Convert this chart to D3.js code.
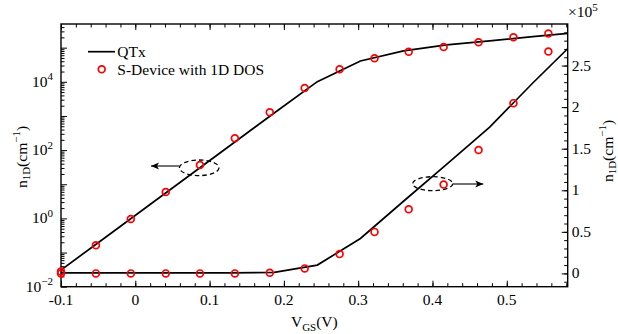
<!DOCTYPE html>
<html>
<head>
<meta charset="utf-8">
<script src="https://cdn.jsdelivr.net/npm/d3@7"></script>
<style>
	body { margin: 0; background: #fff; }
</style>
</head>
<body>
<div id="chart"></div>
<script>
// QTx nodes, V_GS (V)
const vQtx = [-0.1, -0.045, 0.013, 0.071, 0.129, 0.187, 0.245, 0.303, 0.361, 0.419, 0.477, 0.535, 0.593];
// QTx on the left (log) axis, cm^-1
const nQtxLog = [0.0308, 0.234, 1.99, 16.9, 144, 1220, 10100, 40600, 80900, 121000, 158000, 211000, 277000];
// QTx on the right (linear) axis, x10^5 cm^-1
const nQtxLin = [0.007, 0.007, 0.007, 0.007, 0.007, 0.012, 0.10, 0.42, 0.868, 1.312, 1.76, 2.29, 2.80];

// S-Device points, V_GS (V)
const vDev = [-0.1, -0.053, -0.006, 0.041, 0.087, 0.134, 0.181, 0.228, 0.275, 0.322, 0.368, 0.415, 0.462, 0.509, 0.556];
const nDevLog = [0.0279, 0.163, 0.96, 5.93, 36.6, 222, 1280, 6580, 23200, 48800, 76100, 104500, 143500, 201000, 258000];
const nDevLin = [0, 0, 0, 0, 0, 0, 0.007, 0.06, 0.232, 0.499, 0.772, 1.068, 1.484, 2.048, 2.669];

// tick labels
const xTicks = [-0.1, 0, 0.1, 0.2, 0.3, 0.4, 0.5];
const xTickLabels = ["-0.1", "0", "0.1", "0.2", "0.3", "0.4", "0.5"];
const logTicks = [1e-2, 1e0, 1e2, 1e4];
const logTickExp = ["\u22122", "0", "2", "4"];
const linTicks = [0, 0.5, 1, 1.5, 2, 2.5];
const linTickLabels = ["0", "0.5", "1", "1.5", "2", "2.5"];

const FONT = "'Liberation Serif', 'DejaVu Serif', serif";

// canvas
let margin = {top: 24, right: 50.3, bottom: 47.3, left: 61};
let width = 618 - margin.left - margin.right;
let height = 334 - margin.top - margin.bottom;

let svg = d3.select("#chart")
	.append("svg")
	.attr("width", 618)
	.attr("height", 334)
	.attr("font-family", FONT)
	.style("font-family", FONT);

let g = svg.append("g")
	.attr("transform", "translate(" + margin.left + "," + margin.top + ")");

// scales
let x_scale = d3.scaleLinear().domain([-0.1, 0.582]).range([0, width]);
let y_log = d3.scaleLog().domain([1e-2, Math.pow(10, 5.693)]).range([height, 0]);
let y_lin = d3.scaleLinear().domain([-0.16, 3.0]).range([height, 0]);

// clip for curves
let defs = svg.append("defs");
defs.append("clipPath")
	.attr("id", "plot_clip")
	.append("rect")
	.attr("width", width)
	.attr("height", height);

// arrow head
defs.append("marker")
	.attr("id", "arrow")
	.attr("markerUnits", "userSpaceOnUse")
	.attr("markerWidth", 10)
	.attr("markerHeight", 8)
	.attr("refX", 8)
	.attr("refY", 4)
	.attr("orient", "auto")
	.append("path")
	.attr("d", "M0,0.5 L8,4 L0,7.5 L2,4 Z")
	.attr("fill", "#000");

// ---- ticks (inward) ----
function draw_axis(axis, cls, transform) {
	g.append("g")
		.attr("class", cls)
		.attr("transform", transform)
		.call(axis)
		.call(s => s.select(".domain").remove())
		.call(s => s.selectAll("line").attr("stroke", "#000").attr("stroke-width", 1));
}

let xMinor = d3.range(-0.1, 0.5801, 0.02);
draw_axis(d3.axisBottom(x_scale).tickValues(xMinor).tickSize(-3.5).tickFormat(""), "x_minor", "translate(0," + height + ")");
draw_axis(d3.axisBottom(x_scale).tickValues(xTicks).tickSize(-6).tickFormat(""), "x_major", "translate(0," + height + ")");
draw_axis(d3.axisTop(x_scale).tickValues(xMinor).tickSize(-3.5).tickFormat(""), "x_minor_top", "translate(0,0)");
draw_axis(d3.axisTop(x_scale).tickValues(xTicks).tickSize(-6).tickFormat(""), "x_major_top", "translate(0,0)");

let logMajor = d3.range(-2, 6).map(e => Math.pow(10, e));
let logMinor = [];
d3.range(-2, 6).forEach(e => {
	for (let m = 2; m <= 9; m++) {
		let v = m * Math.pow(10, e);
		if (v <= y_log.domain()[1]) logMinor.push(v);
	}
});
draw_axis(d3.axisLeft(y_log).tickValues(logMinor).tickSize(-3.5).tickFormat(""), "y_log_minor", "translate(0,0)");
draw_axis(d3.axisLeft(y_log).tickValues(logMajor).tickSize(-6).tickFormat(""), "y_log_major", "translate(0,0)");

let linMinor = d3.range(-0.1, 2.95, 0.1);
draw_axis(d3.axisRight(y_lin).tickValues(linMinor).tickSize(-3.5).tickFormat(""), "y_lin_minor", "translate(" + width + ",0)");
draw_axis(d3.axisRight(y_lin).tickValues(linTicks).tickSize(-6).tickFormat(""), "y_lin_major", "translate(" + width + ",0)");

// frame
g.append("rect")
	.attr("width", width)
	.attr("height", height)
	.attr("fill", "none")
	.attr("stroke", "#000")
	.attr("stroke-width", 1.4);

// ---- tick labels ----
g.selectAll(".x_lab")
	.data(xTicks)
	.enter()
	.append("text")
	.attr("class", "x_lab")
	.attr("x", (d) => x_scale(d))
	.attr("y", height + 18.5)
	.attr("text-anchor", "middle")
	.style("font-size", "15.5px")
	.text((d, i) => xTickLabels[i]);

let log_lab = g.selectAll(".log_lab")
	.data(logTicks)
	.enter()
	.append("text")
	.attr("class", "log_lab")
	.attr("x", -8)
	.attr("y", (d) => y_log(d) + 5)
	.attr("text-anchor", "end")
	.style("font-size", "15.5px");
log_lab.append("tspan").text("10");
log_lab.append("tspan")
	.attr("dy", -6.5)
	.style("font-size", "11px")
	.text((d, i) => logTickExp[i]);

g.selectAll(".lin_lab")
	.data(linTicks)
	.enter()
	.append("text")
	.attr("class", "lin_lab")
	.attr("x", width + 4)
	.attr("y", (d) => y_lin(d) + 5)
	.attr("text-anchor", "start")
	.style("font-size", "15.5px")
	.text((d, i) => linTickLabels[i]);

// x10^5 multiplier
let mult = svg.append("text")
	.attr("x", 568)
	.attr("y", 17)
	.style("font-size", "15.5px");
mult.append("tspan").text("\u00d710");
mult.append("tspan").attr("dy", -6.5).style("font-size", "11px").text("5");

// ---- axis titles ----
function n1d_label(sel) {
	sel.append("tspan").text("n");
	sel.append("tspan").attr("dy", 3.5).style("font-size", "11px").text("1D");
	sel.append("tspan").attr("dy", -3.5).text("(cm");
	sel.append("tspan").attr("dy", -6.5).style("font-size", "11px").text("\u22121");
	sel.append("tspan").attr("dy", 6.5).text(")");
}

svg.append("text")
	.attr("transform", "translate(26.5,157) rotate(-90)")
	.attr("text-anchor", "middle")
	.style("font-size", "15.5px")
	.call(n1d_label);

svg.append("text")
	.attr("transform", "translate(612.5,151) rotate(-90)")
	.attr("text-anchor", "middle")
	.style("font-size", "15.5px")
	.call(n1d_label);

let xl = svg.append("text")
	.attr("x", margin.left + width / 2)
	.attr("y", 327)
	.attr("text-anchor", "middle")
	.style("font-size", "15.5px");
xl.append("tspan").text("V");
xl.append("tspan").attr("dy", 3.5).style("font-size", "11px").text("GS");
xl.append("tspan").attr("dy", -3.5).text("(V)");

// ---- curves ----
let qtx = vQtx.map((v, i) => ({v: v, log: nQtxLog[i], lin: nQtxLin[i]}));
let dev = vDev.map((v, i) => ({v: v, log: nDevLog[i], lin: nDevLin[i]}));

let curves = g.append("g").attr("clip-path", "url(#plot_clip)");

const line_log = d3.line().x((d) => x_scale(d.v)).y((d) => y_log(d.log));
const line_lin = d3.line().x((d) => x_scale(d.v)).y((d) => y_lin(d.lin));

curves.append("path")
	.datum(qtx)
	.attr("d", line_log)
	.attr("fill", "none")
	.attr("stroke", "#000")
	.attr("stroke-width", 1.7);

curves.append("path")
	.datum(qtx)
	.attr("d", line_lin)
	.attr("fill", "none")
	.attr("stroke", "#000")
	.attr("stroke-width", 1.7);

// circles
g.selectAll(".dev_log")
	.data(dev)
	.enter()
	.append("circle")
	.attr("class", "dev_log")
	.attr("cx", (d) => x_scale(d.v))
	.attr("cy", (d) => y_log(d.log))
	.attr("r", 3.4)
	.attr("fill", "none")
	.attr("stroke", "#ff0000")
	.attr("stroke-width", 1.7);

g.selectAll(".dev_lin")
	.data(dev)
	.enter()
	.append("circle")
	.attr("class", "dev_lin")
	.attr("cx", (d) => x_scale(d.v))
	.attr("cy", (d) => y_lin(d.lin))
	.attr("r", 3.4)
	.attr("fill", "none")
	.attr("stroke", "#ff0000")
	.attr("stroke-width", 1.7);

// ---- annotations ----
svg.append("ellipse")
	.attr("cx", 199.2).attr("cy", 167.8).attr("rx", 19.8).attr("ry", 7.8)
	.attr("fill", "none").attr("stroke", "#000").attr("stroke-width", 1.3)
	.attr("stroke-dasharray", "4.5,3");
svg.append("line")
	.attr("x1", 179.3).attr("y1", 166).attr("x2", 151).attr("y2", 166)
	.attr("stroke", "#000").attr("stroke-width", 1.1)
	.attr("marker-end", "url(#arrow)");

svg.append("ellipse")
	.attr("cx", 432.7).attr("cy", 183.7).attr("rx", 20).attr("ry", 7)
	.attr("fill", "none").attr("stroke", "#000").attr("stroke-width", 1.3)
	.attr("stroke-dasharray", "4.5,3");
svg.append("line")
	.attr("x1", 452.7).attr("y1", 184).attr("x2", 483.3).attr("y2", 184)
	.attr("stroke", "#000").attr("stroke-width", 1.1)
	.attr("marker-end", "url(#arrow)");

// ---- legend ----
let legend = svg.append("g").attr("class", "legend");
legend.append("line")
	.attr("x1", 88).attr("x2", 115).attr("y1", 51.7).attr("y2", 51.7)
	.attr("stroke", "#000").attr("stroke-width", 1.7);
legend.append("text")
	.attr("x", 117.3).attr("y", 56.5)
	.style("font-size", "15.5px")
	.text("QTx");
legend.append("circle")
	.attr("cx", 101.7).attr("cy", 69.3).attr("r", 3.4)
	.attr("fill", "none").attr("stroke", "#ff0000").attr("stroke-width", 1.7);
legend.append("text")
	.attr("x", 117.3).attr("y", 74.5)
	.style("font-size", "15.5px")
	.text("S-Device with 1D DOS");
</script>
</body>
</html>
